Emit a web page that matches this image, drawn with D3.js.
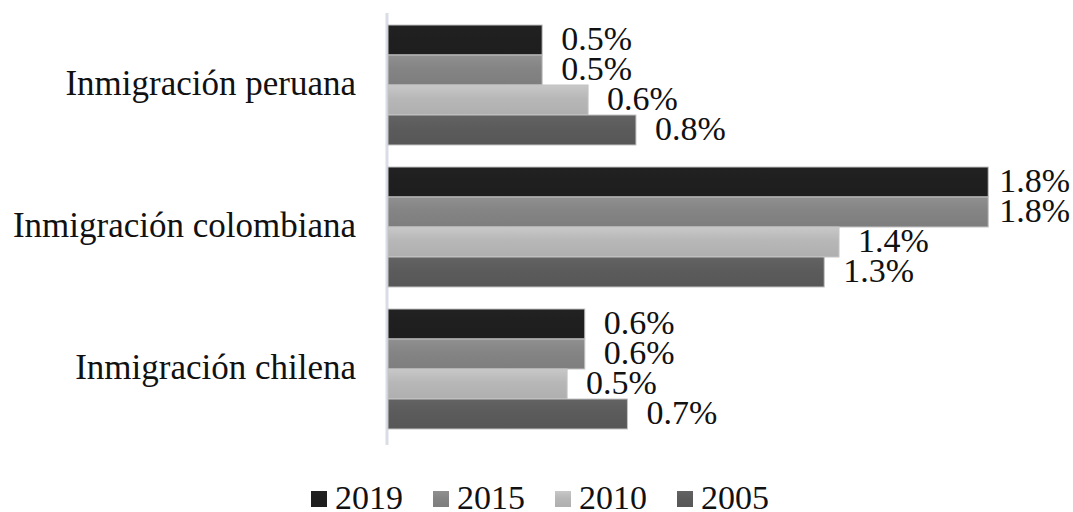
<!DOCTYPE html>
<html><head><meta charset="utf-8">
<script src="https://cdn.jsdelivr.net/npm/d3@7"></script>
<style>body{margin:0;background:#fff}svg{display:block}</style>
</head><body>
<svg id="c" width="1073" height="512"></svg>
<script>
const categories = ["Inmigración peruana", "Inmigración colombiana", "Inmigración chilena"];
const years = ["2019", "2015", "2010", "2005"];
const v2019 = [0.47, 1.83, 0.60];
const v2015 = [0.47, 1.83, 0.60];
const v2010 = [0.61, 1.375, 0.546];
const v2005 = [0.756, 1.33, 0.73];
const seriesValues = [v2019, v2015, v2010, v2005];
const colors = ["#1f1f1f", "#848484", "#b7b7b7", "#5b5b5b"];

const svg = d3.select("#c");
const font = "Liberation Serif, Times New Roman, serif";
const x0 = 388;
const x = d3.scaleLinear().domain([0, 2]).range([x0, x0 + 656]);
const y = d3.scaleBand().domain(categories).range([14, 440]).paddingInner(22/142).paddingOuter(11/142);
const yi = d3.scaleBand().domain(years).range([0, y.bandwidth()]);

const defs = svg.append("defs");
colors.forEach((c, i) => {
  const g = defs.append("linearGradient").attr("id", "g" + i).attr("x1", 0).attr("y1", 0).attr("x2", 0).attr("y2", 1);
  const cc = d3.color(c);
  g.append("stop").attr("offset", "0%").attr("stop-color", cc.brighter(0.25));
  g.append("stop").attr("offset", "45%").attr("stop-color", cc);
  g.append("stop").attr("offset", "100%").attr("stop-color", cc.darker(0.12));
});

// axis line
svg.append("line").attr("x1", x0 - 1).attr("x2", x0 - 1).attr("y1", 13).attr("y2", 445)
  .attr("stroke", "#d9dde6").attr("stroke-width", 3);

const fmt = d3.format(".1f");
categories.forEach((cat, ci) => {
  const g = svg.append("g").attr("transform", `translate(0,${y(cat)})`);
  years.forEach((yr, si) => {
    const val = seriesValues[si][ci];
    g.append("rect").attr("x", x(0)).attr("y", yi(yr)).attr("width", x(val) - x(0)).attr("height", yi.bandwidth())
      .attr("fill", `url(#g${si})`).attr("stroke", "#c4c4c4").attr("stroke-width", 1);
  });
  years.forEach((yr, si) => {
    const val = seriesValues[si][ci];
    const t = g.append("text").attr("x", x(val) + 19).attr("y", yi(yr) + yi.bandwidth() / 2 + 10)
      .attr("font-family", font).attr("font-size", 34).attr("fill", "#111")
      .text(fmt(val) + "%");
    const w = t.node().getComputedTextLength();
    if (x(val) + 19 + w > 1070) t.attr("x", 1070 - w);
  });
  svg.append("text").attr("x", 356).attr("y", y(cat) + y.bandwidth() / 2 + 10)
    .attr("text-anchor", "end").attr("font-family", font).attr("font-size", 35).attr("fill", "#111")
    .text(cat);
});

// legend
const lx = d3.scaleBand().domain(years).range([311, 799]);
years.forEach((yr, i) => {
  svg.append("rect").attr("x", lx(yr)).attr("y", 491).attr("width", 16).attr("height", 16)
    .attr("fill", `url(#g${i})`);
  svg.append("text").attr("x", lx(yr) + 24).attr("y", 509)
    .attr("font-family", font).attr("font-size", 34).attr("fill", "#111").text(yr);
});
</script>
</body></html>
